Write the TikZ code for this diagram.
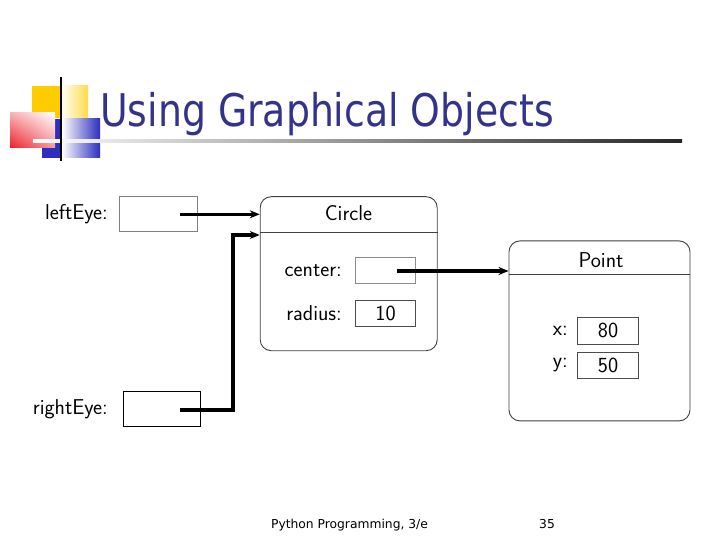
\documentclass[tikz,border=0pt]{standalone}
\usepackage{fontspec}
\usepackage{graphicx}
\usetikzlibrary{arrows.meta,shadings}
\newfontfamily\titlefont{DejaVu Sans}
\definecolor{titleblue}{RGB}{51,51,140}
\definecolor{tplyellow}{RGB}{255,204,0}
\definecolor{tplred}{RGB}{235,30,40}
\definecolor{tplblue}{RGB}{45,45,190}

\begin{document}
\begin{tikzpicture}[
    x=1pt, y=-1pt,
    font=\sffamily\fontsize{21.5}{24}\selectfont,
    >={Stealth[length=10pt,width=8pt]},
    objbox/.style={draw=black!75, line width=0.9pt, rounded corners=11pt},
    objline/.style={draw=black!75, line width=0.9pt},
    valbox/.style={draw=black!70, line width=0.8pt, inner sep=0pt},
    ptr/.style={draw, black, line width=3.2pt, ->},
  ]
  \fill[white] (0,0) rectangle (720,540);
  \useasboundingbox (0,0) rectangle (720,540);

  % ---- decoracion de la plantilla ----
  \fill[tplyellow] (32,86) rectangle (60,118);
  \shade[left color=white, right color=tplyellow!70] (60,86) rectangle (88,118);
  \fill[tplblue] (42,119) rectangle (62,158);
  \shade[left color=white, right color=tplblue] (62,119) rectangle (100,158);
  \shade[lower left=tplred, upper right=white, upper left=tplred!35, lower right=tplred!45]
    (10,113) rectangle (55,148);
  \shade[left color=white, right color=black!85] (33,139.5) rectangle (682,142.5);
  \draw[black, line width=2.4pt] (61,77) -- (61,161);

  % ---- titulo ----
  \node[anchor=base west, inner sep=0pt, text=titleblue] (title) at (100,127)
    {\titlefont\fontsize{45}{50}\selectfont\scalebox{0.84}[1]{Using Graphical Objects}};

  % ---- variables ----
  \node[anchor=east, inner sep=0pt] (lefteyelbl) at (108,214) {leftEye:};
  \node[valbox, draw=black!50, minimum width=78, minimum height=35] (lefteye) at (158.3,214.2) {};
  \node[anchor=east, inner sep=0pt] (righteyelbl) at (108,409) {rightEye:};
  \node[valbox, draw=black, minimum width=77, minimum height=35] (righteye) at (162,408.5) {};

  % ---- objeto Circle ----
  \node[objbox, minimum width=177, minimum height=154] (circleobj) at (348.7,273.7) {};
  \draw[objline] (circleobj.west |- 0,232.7) -- (circleobj.east |- 0,232.7);
  \node (circlehdr) at (348.5,213.5) {Circle};
  \node[anchor=east, inner sep=0pt] (centerlbl) at (342,270.5) {center:};
  \node[valbox, draw=black!45, minimum width=60, minimum height=26] (center) at (385.5,270.3) {};
  \node[anchor=east, inner sep=0pt] (radiuslbl) at (342,313) {radius:};
  \node[valbox, minimum width=60, minimum height=26.5] (radius) at (385.5,313.3) {10};

  % ---- objeto Point ----
  \node[objbox, minimum width=181, minimum height=180] (pointobj) at (599.5,330.9) {};
  \draw[objline] (pointobj.west |- 0,274) -- (pointobj.east |- 0,274);
  \node (pointhdr) at (601,260) {Point};
  \node[anchor=east, inner sep=0pt] (xlbl) at (568,330.5) {x:};
  \node[valbox, minimum width=60.5, minimum height=26.3] (xval) at (608,330.8) {80};
  \node[anchor=east, inner sep=0pt] (ylbl) at (568,365) {y:};
  \node[valbox, minimum width=60.5, minimum height=26] (yval) at (608,365.3) {50};

  % ---- referencias ----
  \coordinate (lefteyeptr) at (180,214.3);
  \coordinate (righteyeptr) at (180,410);
  \coordinate (centerptr) at (397,271);
  \draw[ptr] (lefteyeptr) -- (lefteyeptr -| circleobj.west);
  \draw[ptr] (righteyeptr) -- (233,410) |- (circleobj.west |- 0,235);
  \draw[ptr] (centerptr) -- (centerptr -| pointobj.west);

  % ---- pie ----
  \node[anchor=base, inner sep=0pt] (footer) at (349.5,528)
    {\titlefont\fontsize{12.3}{14}\selectfont Python Programming, 3/e};
  \node[anchor=base, inner sep=0pt] (pagenum) at (547,528)
    {\titlefont\fontsize{12.3}{14}\selectfont 35};
\end{tikzpicture}
\end{document}
